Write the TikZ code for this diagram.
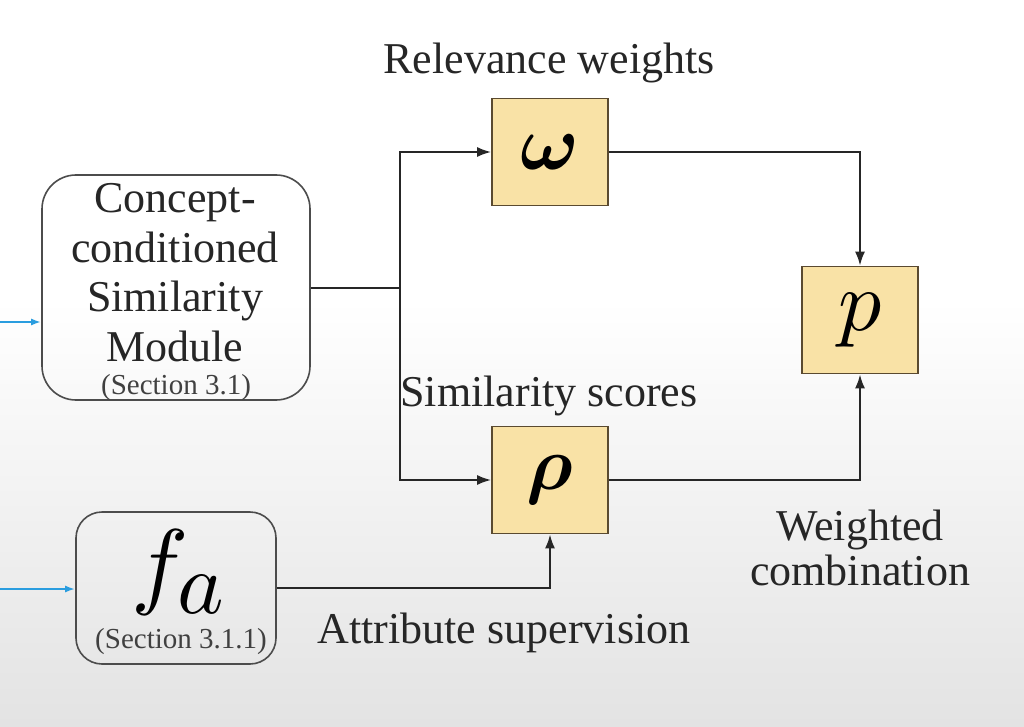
\documentclass[tikz,border=0pt]{standalone}
\usepackage{fontspec}
\usepackage{amsmath,bm,graphicx}
\setmainfont{Liberation Serif}
\usetikzlibrary{arrows.meta}
\definecolor{boxfill}{HTML}{F9E2A6}
\definecolor{boxedge}{HTML}{5A4A30}
\definecolor{inblue}{HTML}{2A9DDF}
\tikzset{
  modbox/.style={draw=black!70, line width=1.6pt, rounded corners=34pt, fill=none},
  opbox/.style={draw=boxedge, line width=1.6pt, fill=boxfill, minimum width=116pt, minimum height=107pt, inner sep=0pt},
  conn/.style={line width=2.2pt, black!85},
  arr/.style={conn, -{Latex[length=14pt,width=10pt]}},
  inarr/.style={line width=2pt, inblue, -{Latex[length=10pt,width=7pt]}},
  lbl/.style={anchor=base, font=\fontsize{44}{48}\selectfont, text=black!85, inner sep=0pt},
  sec/.style={anchor=base, font=\fontsize{29}{32}\selectfont, text=black!75, inner sep=0pt},
}
\begin{document}
\begin{tikzpicture}[x=1pt,y=-1pt]
\useasboundingbox (0,0) rectangle (1024,727);
\fill[white] (0,0) rectangle (1024,300);
\shade[top color=white, bottom color=black!11] (0,300) rectangle (1024,727);

% module boxes
\node[modbox, minimum width=268pt, minimum height=225pt] (cs) at (176,287.5) {};
\node[modbox, rounded corners=26pt, minimum width=200pt, minimum height=152pt] (fa) at (176,588) {};

\node[lbl] (cs1) at (175,213) {Concept-};
\node[lbl] (cs2) at (175,262) {conditioned};
\node[lbl] (cs3) at (175,311) {Similarity};
\node[lbl] (cs4) at (175,361) {Module};
\node[sec] (cs5) at (176,394) {(Section 3.1)};

\node[anchor=center, inner sep=0pt] (fasym) at (178,572) {\scalebox{9.6}{$f\mkern-2mu\raisebox{-1.8pt}{\scalebox{0.92}{$a$}}$}};
\node[sec] (fasec) at (181,648) {(Section 3.1.1)};

% operator boxes
\node[opbox] (w) at (550,152) {\scalebox{7.8}{$\bm{\omega}$}};
\node[opbox] (rho) at (550,480) {\scalebox{7.6}{$\bm{\rho}$}};
\node[opbox] (p) at (860,320) {\scalebox{8.6}{$p$}};

% labels
\node[lbl] (lw) at (549,74) {Relevance weights};
\node[lbl] (ls) at (549,406) {Similarity scores};
\node[lbl] (lc1) at (860,540) {Weighted};
\node[lbl] (lc2) at (860,585) {combination};
\node[lbl] (la) at (504,643) {Attribute supervision};

% connectors
\coordinate (j) at (400,288);
\draw[conn] (cs.east |- j) -- (j);
\draw[arr] (j) |- (w.west);
\draw[arr] (j) |- (rho.west);
\draw[arr] (w.east) -| (p.north);
\draw[arr] (rho.east) -| (p.south);
\draw[arr] (fa.east) -| (rho.south);

% inputs
\coordinate (in1) at (0,322);
\coordinate (in2) at (0,589);
\draw[inarr] (in1) -- (in1 -| cs.west);
\draw[inarr] (in2) -- (in2 -| fa.west);
\end{tikzpicture}
\end{document}
